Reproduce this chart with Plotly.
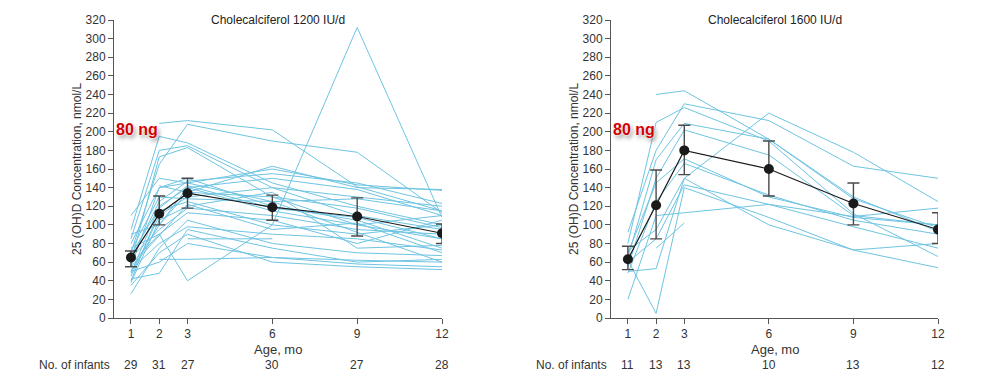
import plotly.graph_objects as go

MONTHS = [1, 2, 3, 6, 9, 12]
TICK_LABELS = ["1", "2", "3", "6", "9", "12"]

# Individual infants, 1200 IU/d (values at months 1,2,3,6,9,12)
LEFT_SUBJECTS = [
    [None, 209, 212, 202, 141, 115],
    [70, 165, 208, 190, 178, 113],
    [95, 195, 188, 145, 120, 100],
    [85, 180, 185, 140, 110, 95],
    [60, 173, 183, 130, 100, 85],
    [None, 142, 135, 163, 140, 138],
    [55, 140, 145, 160, 143, 137],
    [48, 120, 140, 150, 138, 110],
    [63, 125, 147, 155, 145, 123],
    [45, 110, 130, 140, 130, 120],
    [72, 130, 128, 125, 128, 115],
    [50, 100, 140, 115, 100, 110],
    [40, 115, 125, 100, 90, 100],
    [65, 95, 118, 110, 95, 90],
    [58, 90, 113, 105, 80, 105],
    [38, 105, 120, 135, 75, 78],
    [52, 80, 98, 90, 85, 73],
    [26, 75, 105, 80, 70, 67],
    [42, 48, 95, 75, 60, 63],
    [None, 63, 63, 65, 62, 60],
    [50, 60, 80, 65, 58, 55],
    [35, 70, 90, 60, 55, 52],
    [None, None, 85, 85, None, None],
    [75, 90, 40, 100, 312, 108],
    [80, 140, 150, 120, 105, 75],
    [90, 100, 135, 130, 118, 97],
    [68, 118, 142, 118, 108, 85],
    [110, 150, 145, 125, 92, 60],
    [55, 88, 122, 95, 102, 70],
]
LEFT_MEAN = [65, 112, 134, 119, 109, 91]
LEFT_UPPER = [72, 131, 150, 132, 129, 101]
LEFT_LOWER = [55, 100, 118, 105, 88, 80]
LEFT_N = [29, 31, 27, 30, 27, 28]

# Individual infants, 1600 IU/d
RIGHT_SUBJECTS = [
    [None, 240, 244, 192, 128, 97],
    [92, 180, 230, 212, 163, 150],
    [80, 210, 226, 190, 112, 66],
    [65, 170, 209, 192, 130, 93],
    [55, 150, 202, 175, 110, 100],
    [70, 145, 171, 130, 108, 100],
    [48, 125, 166, 132, 105, 90],
    [60, 85, 143, 122, 98, 75],
    [20, 110, 113, 122, 109, 118],
    [50, 53, 150, 100, 73, 54],
    [62, 5, 140, 108, 73, 80],
    [None, 75, 102, None, None, None],
    [72, 95, 150, 220, 178, 125],
]
RIGHT_MEAN = [63, 121, 180, 160, 123, 95]
RIGHT_UPPER = [77, 159, 207, 190, 145, 113]
RIGHT_LOWER = [52, 85, 154, 131, 100, 80]
RIGHT_N = [11, 13, 13, 10, 13, 12]

TITLES = ["Cholecalciferol 1200 IU/d", "Cholecalciferol 1600 IU/d"]
Y_TITLE = "25 (OH)D Concentration, nmol/L"
X_TITLE = "Age, mo"
N_LABEL = "No. of infants"
NOTE = "80 ng"

FONT = "Liberation Sans, Arial, Helvetica, sans-serif"
BLUE = "rgb(110,196,226)"
AXIS = "#555555"
TEXT = "#333333"

fig = go.Figure()

panels = [
    ("x", "y", LEFT_SUBJECTS, LEFT_MEAN, LEFT_UPPER, LEFT_LOWER),
    ("x2", "y2", RIGHT_SUBJECTS, RIGHT_MEAN, RIGHT_UPPER, RIGHT_LOWER),
]
for xa, ya, subs, mean, up, lo in panels:
    for s in subs:
        fig.add_trace(go.Scatter(
            x=MONTHS, y=s, mode="lines", xaxis=xa, yaxis=ya,
            line=dict(color=BLUE, width=1), connectgaps=False,
            hoverinfo="skip", showlegend=False))
    fig.add_trace(go.Scatter(
        x=MONTHS, y=mean, mode="lines+markers", xaxis=xa, yaxis=ya,
        line=dict(color="#1a1a1a", width=1.2),
        marker=dict(color="#1a1a1a", size=10),
        error_y=dict(type="data", symmetric=False,
                     array=[u - m for u, m in zip(up, mean)],
                     arrayminus=[m - l for m, l in zip(mean, lo)],
                     color="#4a4a4a", thickness=1.4, width=6),
        showlegend=False))

dom_y = [1 - 318 / 380, 1 - 20 / 380]
xdoms = [[114 / 988, 442 / 988], [611 / 988, 938 / 988]]

axis_common = dict(
    showgrid=False, zeroline=False, showline=True, linecolor=AXIS, linewidth=1,
    ticks="outside", ticklen=5, tickcolor=AXIS, tickwidth=1, automargin=False,
    tickfont=dict(family=FONT, size=12, color=TEXT),
)
fig.update_layout(
    width=988, height=380,
    margin=dict(l=0, r=0, t=0, b=0, pad=0),
    paper_bgcolor="white", plot_bgcolor="white",
    showlegend=False,
    xaxis=dict(domain=xdoms[0], range=[0.4, 12], tickvals=MONTHS, ticktext=TICK_LABELS,
               anchor="y", **axis_common),
    yaxis=dict(domain=dom_y, range=[0, 320], dtick=20, anchor="x", **axis_common),
    xaxis2=dict(domain=xdoms[1], range=[0.4, 12], tickvals=MONTHS, ticktext=TICK_LABELS,
                anchor="y2", **axis_common),
    yaxis2=dict(domain=dom_y, range=[0, 320], dtick=20, anchor="x2", **axis_common),
)

ann = []
for i, (xd, ns) in enumerate(zip(xdoms, [LEFT_N, RIGHT_N])):
    xref = "x" if i == 0 else "x2"
    cx = (xd[0] + xd[1]) / 2
    ann.append(dict(x=cx, y=1 - 20 / 380, xref="paper", yref="paper", text=TITLES[i],
                    showarrow=False, xanchor="center", yanchor="middle",
                    font=dict(family=FONT, size=12, color="#222")))
    ann.append(dict(x=cx, y=1 - 349 / 380, xref="paper", yref="paper", text=X_TITLE,
                    showarrow=False, xanchor="center", yanchor="middle",
                    font=dict(family=FONT, size=13, color=TEXT)))
    ann.append(dict(x=xd[0] - 37 / 988, y=(dom_y[0] + dom_y[1]) / 2, xref="paper", yref="paper",
                    text=Y_TITLE, textangle=-90, showarrow=False,
                    xanchor="center", yanchor="middle",
                    font=dict(family=FONT, size=12, color=TEXT)))
    for m, n in zip(MONTHS, ns):
        ann.append(dict(x=m, y=1 - 365 / 380, xref=xref, yref="paper", text=str(n),
                        showarrow=False, xanchor="center", yanchor="middle",
                        font=dict(family=FONT, size=12, color=TEXT)))
    ann.append(dict(x=xd[0] - 77 / 988, y=1 - 365 / 380, xref="paper", yref="paper",
                    text=N_LABEL, showarrow=False, xanchor="left", yanchor="middle",
                    font=dict(family=FONT, size=12, color=TEXT)))
    ann.append(dict(x=xd[0] + 23 / 988, y=1 - 130 / 380, xref="paper", yref="paper",
                    text="<b>" + NOTE + "</b>", showarrow=False, xanchor="center", yanchor="middle",
                    font=dict(family=FONT, size=16, color="#d40000",
                              shadow="0 0 2px #fff, 0 0 2px #fff, 2px 3px 4px rgba(0,0,0,0.45)")))

fig.update_layout(annotations=ann)
fig.write_html(
    "out.html",
    config={"displayModeBar": False},
    post_script=(
        "document.documentElement.style.margin='0';"
        "document.documentElement.style.overflow='hidden';"
        "document.body.style.margin='0';document.body.style.padding='0';"
        "document.body.style.overflow='hidden';"
    ),
)
